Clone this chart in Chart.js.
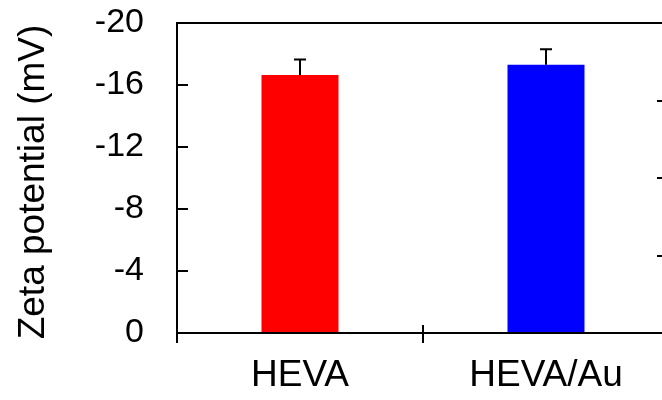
<!DOCTYPE html>
<html>
<head>
<meta charset="utf-8">
<style>
  html, body { margin: 0; padding: 0; overflow: hidden; background: #fff; }
  #wrap { position: relative; width: 720px; height: 400px; }
</style>
<script src="https://cdn.jsdelivr.net/npm/chart.js@4.4.1/dist/chart.umd.min.js"></script>
</head>
<body>
<div id="wrap"><canvas id="c" width="720" height="400"></canvas></div>
<script>
// Zeta potential of the two samples (mV) with standard deviations
const categories = ['HEVA', 'HEVA/Au'];
const zeta = [-16.65, -17.3];
const zetaErr = [1.0, 1.0];
const leftTicks = [0, -4, -8, -12, -16, -20];
const rightTicks = [0, 1, 2, 3, 4];
const barColors = ['#ff0000', '#0000ff'];
const yTitle = 'Zeta potential (mV)';

const FONT = "'Liberation Sans', Arial, sans-serif";

// Frame, inward tick marks, error bars and the axis title
const framePlugin = {
  id: 'frame',
  afterDatasetsDraw(chart) {
    const { ctx, chartArea: a, scales } = chart;
    const y = scales.y, y2 = scales.y2, x = scales.x;
    ctx.save();
    ctx.strokeStyle = '#000';
    ctx.lineWidth = 2;
    ctx.lineCap = 'butt';

    // error bars
    const meta = chart.getDatasetMeta(0);
    meta.data.forEach((bar, i) => {
      const yTop = y.getPixelForValue(zeta[i] - zetaErr[i]);
      ctx.beginPath();
      ctx.moveTo(bar.x, bar.y);
      ctx.lineTo(bar.x, yTop);
      ctx.moveTo(bar.x - 6, yTop);
      ctx.lineTo(bar.x + 6, yTop);
      ctx.stroke();
    });

    ctx.beginPath();
    // left axis, extended below the base
    ctx.moveTo(a.left, a.top);
    ctx.lineTo(a.left, a.bottom + 10);
    // right axis
    ctx.moveTo(a.right, a.top);
    ctx.lineTo(a.right, a.bottom + 10);
    // top and bottom edges
    ctx.moveTo(a.left - 1, a.top);
    ctx.lineTo(a.right + 1, a.top);
    ctx.moveTo(a.left - 1, a.bottom);
    ctx.lineTo(a.right + 1, a.bottom);
    // left ticks pointing inward
    leftTicks.forEach(v => {
      const py = Math.round(y.getPixelForValue(v));
      ctx.moveTo(a.left, py);
      ctx.lineTo(a.left + 11, py);
    });
    // right ticks pointing inward
    rightTicks.forEach(v => {
      const py = Math.round(y2.getPixelForValue(v));
      ctx.moveTo(a.right, py);
      ctx.lineTo(a.right - 12, py);
    });
    // category separators crossing the base line
    for (let i = 1; i < categories.length; i++) {
      const px = Math.round((x.getPixelForValue(i - 1) + x.getPixelForValue(i)) / 2);
      ctx.moveTo(px, a.bottom - 8);
      ctx.lineTo(px, a.bottom + 10);
    }
    ctx.stroke();

    // rotated y-axis title
    ctx.translate(34, (a.top + a.bottom) / 2 + 4);
    ctx.rotate(-Math.PI / 2);
    ctx.fillStyle = '#000';
    ctx.font = '37px ' + FONT;
    ctx.textAlign = 'center';
    ctx.textBaseline = 'middle';
    ctx.fillText(yTitle, 0, 0);
    ctx.restore();
  }
};

function noOverhang(s) {
  s.paddingTop = 0; s.paddingBottom = 0;
  s.paddingLeft = 0; s.paddingRight = 0;
}

new Chart(document.getElementById('c'), {
  type: 'bar',
  data: {
    labels: categories,
    datasets: [{
      data: zeta,
      backgroundColor: barColors,
      borderWidth: 0,
      barPercentage: 0.313,
      categoryPercentage: 1.0
    }]
  },
  options: {
    responsive: false,
    animation: false,
    events: [],
    layout: { padding: { top: 23, left: 0, right: 0, bottom: 0 } },
    plugins: { legend: { display: false }, tooltip: { enabled: false } },
    scales: {
      x: {
        grid: { display: false, drawTicks: false },
        border: { display: false },
        ticks: { color: '#000', font: { family: FONT, size: 37 }, padding: 21 },
        afterFit(s) { noOverhang(s); s.height = 67; }
      },
      y: {
        position: 'left',
        reverse: true,
        min: -20,
        max: 0,
        grid: { display: false, drawTicks: false },
        border: { display: false },
        ticks: {
          stepSize: 4,
          color: '#000',
          font: { family: FONT, size: 34 },
          padding: 33
        },
        afterFit(s) { noOverhang(s); s.width = 177; }
      },
      y2: {
        position: 'right',
        min: 0,
        max: 4,
        grid: { display: false, drawTicks: false },
        border: { display: false },
        ticks: { display: false, stepSize: 1 },
        afterFit(s) { noOverhang(s); s.width = 51; }
      }
    }
  },
  plugins: [framePlugin]
});
</script>
</body>
</html>
